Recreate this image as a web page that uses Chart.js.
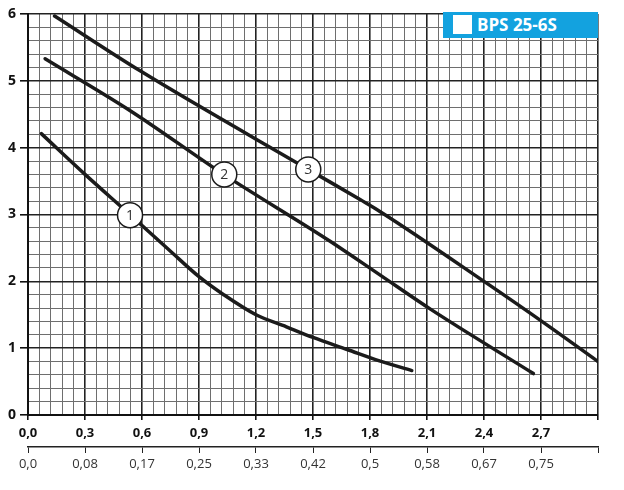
<!DOCTYPE html>
<html>
<head>
<meta charset="utf-8">
<script src="https://cdn.jsdelivr.net/npm/chart.js@4.4.1/dist/chart.umd.min.js"></script>
<style>
    html, body { margin: 0; padding: 0; background: #fff; }
    #wrap { position: relative; width: 624px; height: 490px; }
    #badge {
        position: absolute; left: 443px; top: 12px; width: 155px; height: 26px;
        background: #13a2df; color: #fff; font-family: "Open Sans", sans-serif;
        font-weight: 700; font-size: 17px; line-height: 26px;
    }
    #badge .sq { position: absolute; left: 10px; top: 3px; width: 19px; height: 19px; background: #fff; }
    #badge .txt { position: absolute; left: 34px; top: 0; }
</style>
</head>
<body>
<div id="wrap">
    <canvas id="chart" width="624" height="490"></canvas>
    <div id="badge"><span class="sq"></span><span class="txt">BPS 25-6S</span></div>
</div>
<script>
// flow (m3/h) ticks, flow (l/s) ticks, head ticks
const flowLabels = ['0,0', '0,3', '0,6', '0,9', '1,2', '1,5', '1,8', '2,1', '2,4', '2,7', ''];
const flowLsLabels = ['0,0', '0,08', '0,17', '0,25', '0,33', '0,42', '0,5', '0,58', '0,67', '0,75', ''];
const headLabels = ['0', '1', '2', '3', '4', '5', '6'];

// speed curves 1, 2, 3
const curve1X = [0.07, 0.30, 0.54, 0.75, 0.90, 1.03, 1.20, 1.36, 1.50, 1.68, 1.85, 2.02];
const curve1Y = [4.21, 3.60, 2.99, 2.45, 2.07, 1.80, 1.50, 1.32, 1.16, 0.98, 0.81, 0.665];
const curve2X = [0.09, 0.54, 1.03, 1.59, 1.85, 2.12, 2.66];
const curve2Y = [5.33, 4.55, 3.60, 2.60, 2.10, 1.58, 0.62];
const curve3X = [0.14, 0.59, 1.475, 1.75, 1.85, 2.41, 2.74, 3.0];
const curve3Y = [5.97, 5.15, 3.675, 3.22, 3.05, 1.98, 1.33, 0.80];

// circled speed numbers
const markerX = [0.537, 1.033, 1.475];
const markerY = [2.99, 3.60, 3.675];
const markerText = ['1', '2', '3'];

const toPoints = (xs, ys) => xs.map((x, i) => ({ x: x, y: ys[i] }));
const isMajor = (v, step) => Math.abs(v / step - Math.round(v / step)) < 1e-6;

function curve(xs, ys) {
    return {
        data: toPoints(xs, ys),
        showLine: true,
        borderColor: '#1b1b1b',
        borderWidth: 3.5,
        borderCapStyle: 'round',
        pointRadius: 0,
        cubicInterpolationMode: 'monotone',
        order: 1
    };
}

const markerLabels = {
    id: 'markerLabels',
    afterDatasetsDraw(chart) {
        const meta = chart.getDatasetMeta(3);
        const ctx = chart.ctx;
        ctx.save();
        ctx.fillStyle = '#333';
        ctx.font = '14px "Open Sans", sans-serif';
        ctx.textAlign = 'center';
        ctx.textBaseline = 'middle';
        meta.data.forEach((pt, i) => ctx.fillText(markerText[i], pt.x, pt.y + 1));
        ctx.restore();
    }
};

new Chart(document.getElementById('chart'), {
    type: 'scatter',
    data: {
        datasets: [
            curve(curve1X, curve1Y),
            curve(curve2X, curve2Y),
            curve(curve3X, curve3Y),
            {
                data: toPoints(markerX, markerY),
                pointRadius: 12.5,
                pointBackgroundColor: '#fff',
                pointBorderColor: '#1b1b1b',
                pointBorderWidth: 1.5,
                order: -1
            }
        ]
    },
    options: {
        responsive: false,
        animation: false,
        events: [],
        layout: { padding: { top: 13, right: 26, left: 0, bottom: 0 } },
        plugins: { legend: { display: false }, tooltip: { enabled: false } },
        scales: {
            x: {
                type: 'linear', min: 0, max: 3, weight: 0,
                afterFit: s => { s.height = 32; },
                border: { color: '#111', width: 2 },
                grid: {
                    color: c => isMajor(c.tick.value, 0.3) ? '#222' : '#6e6e6e',
                    lineWidth: c => isMajor(c.tick.value, 0.3) ? 1.6 : 1,
                    tickColor: c => isMajor(c.tick.value, 0.3) ? '#111' : 'rgba(0,0,0,0)',
                    tickLength: 5
                },
                ticks: {
                    stepSize: 0.06, autoSkip: false, maxRotation: 0, padding: 5,
                    color: '#111',
                    font: { family: '"Open Sans", sans-serif', size: 13, weight: 'bold' },
                    callback: v => isMajor(v, 0.3) ? flowLabels[Math.round(v / 0.3)] : ''
                }
            },
            x2: {
                type: 'linear', position: 'bottom', min: 0, max: 3, weight: 1,
                afterFit: s => { s.height = 43; },
                border: { color: '#222', width: 1.5 },
                grid: { drawOnChartArea: false, tickColor: '#222', tickLength: 6 },
                ticks: {
                    stepSize: 0.3, autoSkip: false, maxRotation: 0, padding: 3,
                    color: '#333',
                    font: { family: '"Open Sans", sans-serif', size: 13 },
                    callback: v => flowLsLabels[Math.round(v / 0.3)]
                }
            },
            y: {
                type: 'linear', min: 0, max: 6,
                afterFit: s => { s.width = 28; },
                border: { color: '#111', width: 2 },
                grid: {
                    color: c => isMajor(c.tick.value, 1) ? '#222' : '#6e6e6e',
                    lineWidth: c => isMajor(c.tick.value, 1) ? 1.6 : 1,
                    tickColor: c => isMajor(c.tick.value, 1) ? '#111' : 'rgba(0,0,0,0)',
                    tickLength: 8
                },
                ticks: {
                    stepSize: 0.2, autoSkip: false, padding: 4,
                    color: '#111',
                    font: { family: '"Open Sans", sans-serif', size: 14, weight: 'bold' },
                    callback: v => isMajor(v, 1) ? headLabels[Math.round(v)] : ''
                }
            }
        }
    },
    plugins: [markerLabels]
});
</script>
</body>
</html>
